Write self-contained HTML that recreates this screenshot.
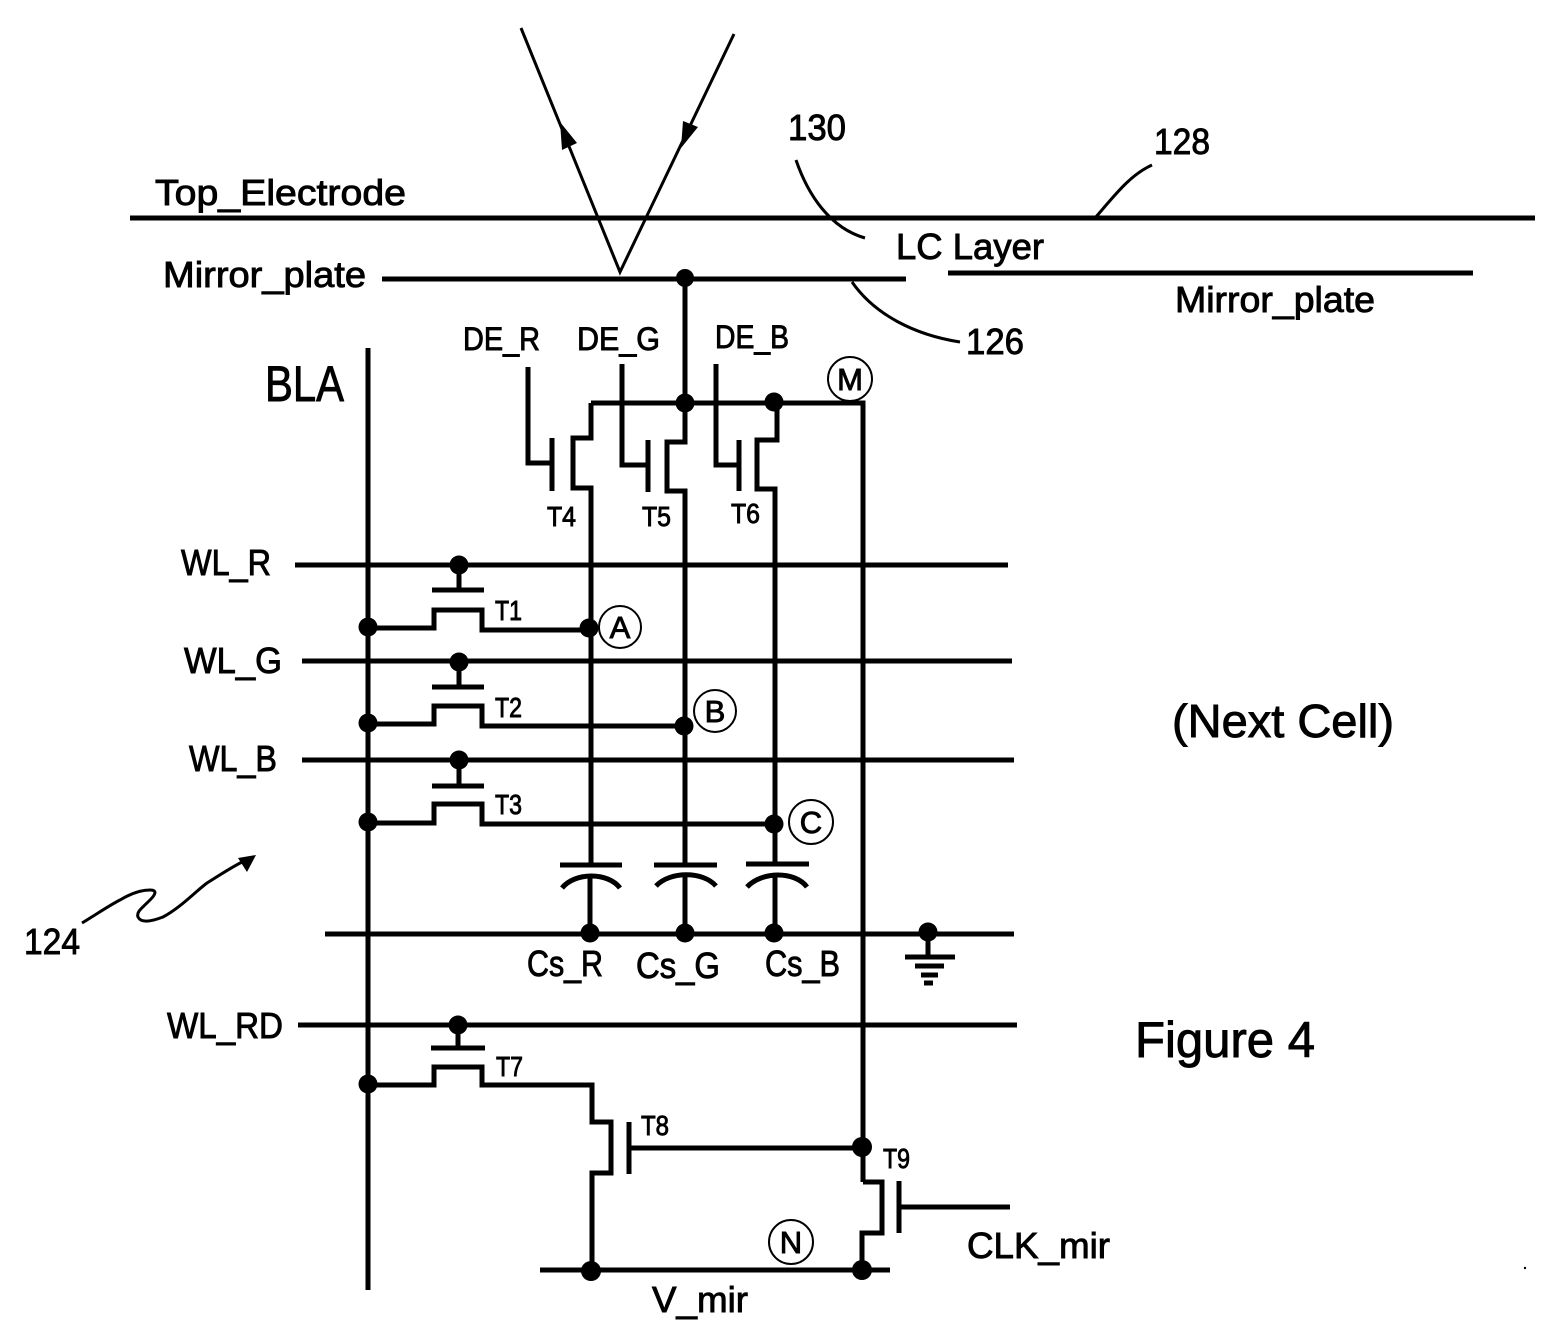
<!DOCTYPE html>
<html><head><meta charset="utf-8"><style>
html,body{margin:0;padding:0;background:#fff}
svg{display:block}
text{font-family:"Liberation Sans",sans-serif;fill:#000;stroke:#000;stroke-width:.9}
</style></head><body>
<svg width="1568" height="1344" viewBox="0 0 1568 1344" xmlns="http://www.w3.org/2000/svg">
<rect width="1568" height="1344" fill="#fff"/>
<g fill="none" stroke="#000" stroke-width="5" stroke-linejoin="miter">
<path d="M130 218H1535M382 279H906M948 273H1473"/>
<path stroke-width="3" d="M521 28L620 272L734 34"/>
<path stroke-width="3" d="M796 160C808 195 830 228 865 238M1095 218C1115 195 1130 175 1152 165M852 282C875 315 915 335 960 342"/>
<path stroke-width="3" d="M82 923C100 912 110 905 120 900C130 894 140 890 150 890C158 890 155 895 150 900C142 908 136 912 138 917C141 923 150 922 163 917C180 908 195 892 207 883C220 875 230 868 244 861"/>
<path d="M368 348V1290"/>
<path d="M295 565H1008M302 661H1012M302 760H1014M325 934H1014M298 1025H1017"/>
<path d="M685 279V403M591 403H863V1182"/>
<!-- T4 T5 T6 and their drain lines, broken at capacitor gap -->
<path d="M528 367V463H552M552 438V491M591 403V438H573V488H591V865"/>
<path d="M622 364V465H648M648 440V492M685 403V442H667V491H685V865"/>
<path d="M716 364V465H739M739 440V491M777 403V440H757V489H775V864"/>
<path d="M590 876V933M685 874V933M775 874V933"/>
<!-- T1 T2 T3 T7 -->
<path d="M368 628H434V610H482V630H589M432 590H484M459 565V590"/>
<path d="M368 724H434V706H482V726H684M432 687H484M459 662V687"/>
<path d="M368 823H434V804H482V824H774M432 786H484M459 760V786"/>
<path d="M368 1085H434V1067H482V1085H592V1122H611V1173H592V1272M431 1048H485M458 1025V1048"/>
<!-- T8 T9 -->
<path d="M629 1122V1174M629 1148H862M863 1182H882V1233H862V1270M899 1181V1233M899 1207H1010M540 1270H890"/>
<!-- capacitors -->
<path d="M560 865H622M654 865H717M746 864H809"/>
<path d="M562 888C575 872 608 872 620 888M656 886C670 871 703 871 716 886M747 887C762 871 795 871 807 887"/>
<!-- ground -->
<path d="M928 932V957M905 957H955M915 966H944M921 975H938M924 983H933"/>
</g>
<g fill="#000">
<path d="M560 122L562 150L577 143ZM681 148L683 121L698 127Z"/>
<path d="M256 855L238 858L247 872Z"/>
<circle cx="685" cy="278" r="9"/><circle cx="685" cy="403" r="9.5"/><circle cx="774" cy="402" r="9.5"/>
<circle cx="459" cy="565" r="9.5"/><circle cx="459" cy="662" r="9.5"/><circle cx="459" cy="760" r="9.5"/><circle cx="458" cy="1025" r="9.5"/>
<circle cx="368" cy="627" r="9.5"/><circle cx="368" cy="723" r="9.5"/><circle cx="368" cy="822" r="9.5"/><circle cx="368" cy="1084" r="9.5"/>
<circle cx="589" cy="628" r="9.5"/><circle cx="684" cy="726" r="9.5"/><circle cx="774" cy="824" r="9.5"/>
<circle cx="590" cy="933" r="9.5"/><circle cx="685" cy="933" r="9.5"/><circle cx="774" cy="933" r="9.5"/><circle cx="928" cy="932" r="9.5"/>
<circle cx="862" cy="1147" r="10"/><circle cx="591" cy="1271" r="10"/><circle cx="862" cy="1270" r="10"/>
<circle cx="1525" cy="1268" r="1.2"/>
</g>
<g fill="none" stroke="#000" stroke-width="2">
<circle cx="850" cy="379" r="22"/><circle cx="620" cy="627" r="21"/><circle cx="715" cy="711" r="21"/><circle cx="811" cy="822" r="22"/><circle cx="791" cy="1242" r="22"/>
</g>
<g font-size="36">
<text x="155" y="205" textLength="251" lengthAdjust="spacingAndGlyphs">Top_Electrode</text>
<text x="163" y="287" textLength="203" lengthAdjust="spacingAndGlyphs">Mirror_plate</text>
<text x="1175" y="312" textLength="200" lengthAdjust="spacingAndGlyphs">Mirror_plate</text>
<text x="896" y="259" textLength="148" lengthAdjust="spacingAndGlyphs">LC Layer</text>
<text x="788" y="140" textLength="58" lengthAdjust="spacingAndGlyphs">130</text>
<text x="1154" y="154" textLength="56" lengthAdjust="spacingAndGlyphs">128</text>
<text x="966" y="354" textLength="58" lengthAdjust="spacingAndGlyphs">126</text>
<text x="24" y="954" textLength="56" lengthAdjust="spacingAndGlyphs">124</text>
<text x="181" y="575" textLength="90" lengthAdjust="spacingAndGlyphs">WL_R</text>
<text x="184" y="673" textLength="98" lengthAdjust="spacingAndGlyphs">WL_G</text>
<text x="189" y="771" textLength="88" lengthAdjust="spacingAndGlyphs">WL_B</text>
<text x="167" y="1038" textLength="116" lengthAdjust="spacingAndGlyphs">WL_RD</text>
<text x="527" y="976" textLength="76" lengthAdjust="spacingAndGlyphs">Cs_R</text>
<text x="636" y="978" textLength="84" lengthAdjust="spacingAndGlyphs">Cs_G</text>
<text x="765" y="976" textLength="75" lengthAdjust="spacingAndGlyphs">Cs_B</text>
<text x="967" y="1258" textLength="143" lengthAdjust="spacingAndGlyphs">CLK_mir</text>
<text x="652" y="1312" textLength="96" lengthAdjust="spacingAndGlyphs">V_mir</text>
</g>
<g font-size="32">
<text x="463" y="350" textLength="77" lengthAdjust="spacingAndGlyphs">DE_R</text>
<text x="577" y="350" textLength="83" lengthAdjust="spacingAndGlyphs">DE_G</text>
<text x="715" y="348" textLength="74" lengthAdjust="spacingAndGlyphs">DE_B</text>
</g>
<text x="265" y="401" font-size="50" textLength="79" lengthAdjust="spacingAndGlyphs">BLA</text>
<text x="1172" y="737" font-size="46" textLength="222" lengthAdjust="spacingAndGlyphs">(Next Cell)</text>
<text x="1135" y="1057" font-size="50" textLength="180" lengthAdjust="spacingAndGlyphs">Figure 4</text>
<g font-size="28">
<text x="547" y="526" textLength="29" lengthAdjust="spacingAndGlyphs">T4</text>
<text x="642" y="526" textLength="29" lengthAdjust="spacingAndGlyphs">T5</text>
<text x="731" y="523" textLength="29" lengthAdjust="spacingAndGlyphs">T6</text>
<text x="495" y="620" textLength="27" lengthAdjust="spacingAndGlyphs">T1</text>
<text x="495" y="717" textLength="27" lengthAdjust="spacingAndGlyphs">T2</text>
<text x="495" y="814" textLength="27" lengthAdjust="spacingAndGlyphs">T3</text>
<text x="496" y="1076" textLength="27" lengthAdjust="spacingAndGlyphs">T7</text>
<text x="641" y="1135" textLength="28" lengthAdjust="spacingAndGlyphs">T8</text>
<text x="883" y="1168" textLength="27" lengthAdjust="spacingAndGlyphs">T9</text>
</g>
<g font-size="31" text-anchor="middle">
<text x="850" y="390">M</text>
<text x="620" y="638">A</text>
<text x="715" y="722">B</text>
<text x="811" y="833">C</text>
<text x="791" y="1253">N</text>
</g>
</svg>
</body></html>
